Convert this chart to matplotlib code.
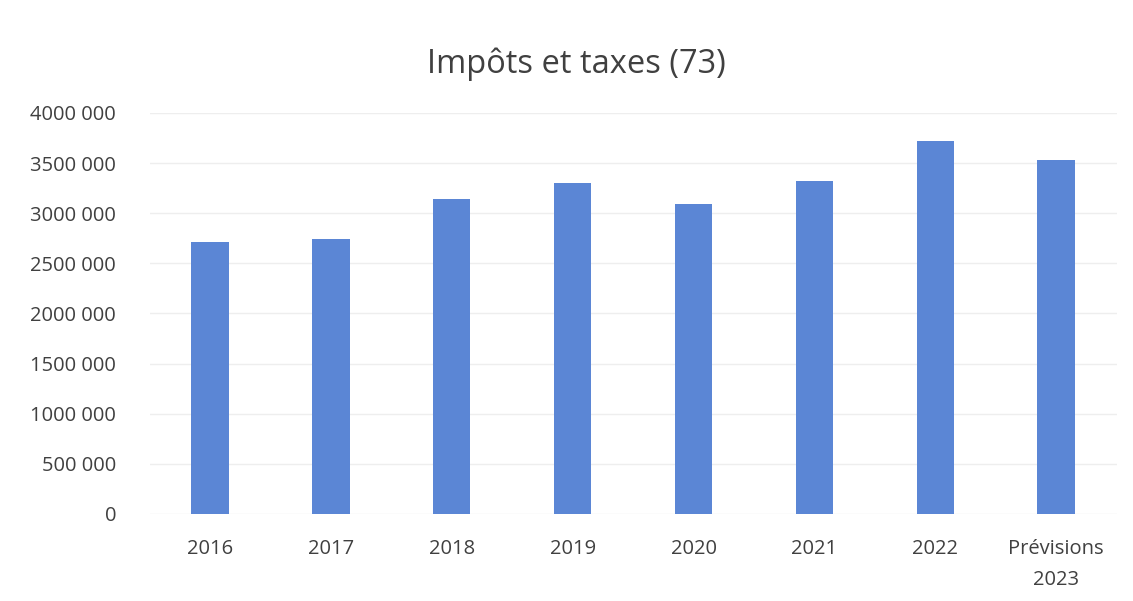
import matplotlib.pyplot as plt
from matplotlib.ticker import FixedLocator

plt.rcParams['font.family'] = ['Open Sans', 'DejaVu Sans']

categories = ['2016', '2017', '2018', '2019', '2020', '2021', '2022', 'Prévisions\n2023']
values = [2708000, 2744000, 3140000, 3306000, 3094000, 3326000, 3719000, 3526000]
ytick_vals = [0, 500000, 1000000, 1500000, 2000000, 2500000, 3000000, 3500000, 4000000]
ytick_labels = ['0', '500 000', '1000 000', '1500 000', '2000 000', '2500 000',
                '3000 000', '3500 000', '4000 000']

fig = plt.figure(figsize=(11.33, 6.01), dpi=100)
ax = fig.add_axes([0.132, 0.145, 0.8535, 0.667])

x = range(len(categories))
ax.bar(x, values, width=0.31, color='#5b86d5', zorder=3)

ax.set_xlim(-0.5, len(categories) - 0.5)
ax.set_ylim(0, 4000000)
ax.yaxis.set_major_locator(FixedLocator(ytick_vals))
ax.set_yticklabels(ytick_labels)
ax.set_xticks(list(x))
ax.set_xticklabels(categories, linespacing=1.75)
ax.tick_params(axis='both', length=0, labelsize=14.5, colors='#404040')
ax.tick_params(axis='x', pad=18)
ax.tick_params(axis='y', pad=24)
ax.grid(axis='y', color='#eeeeee', linewidth=1, zorder=0)
for s in ax.spines.values():
    s.set_visible(False)

fig.text(0.509, 0.893, 'Impôts et taxes (73)', ha='center', va='center',
         fontsize=23.5, color='#404040')

fig.savefig('out.png', dpi=100)
